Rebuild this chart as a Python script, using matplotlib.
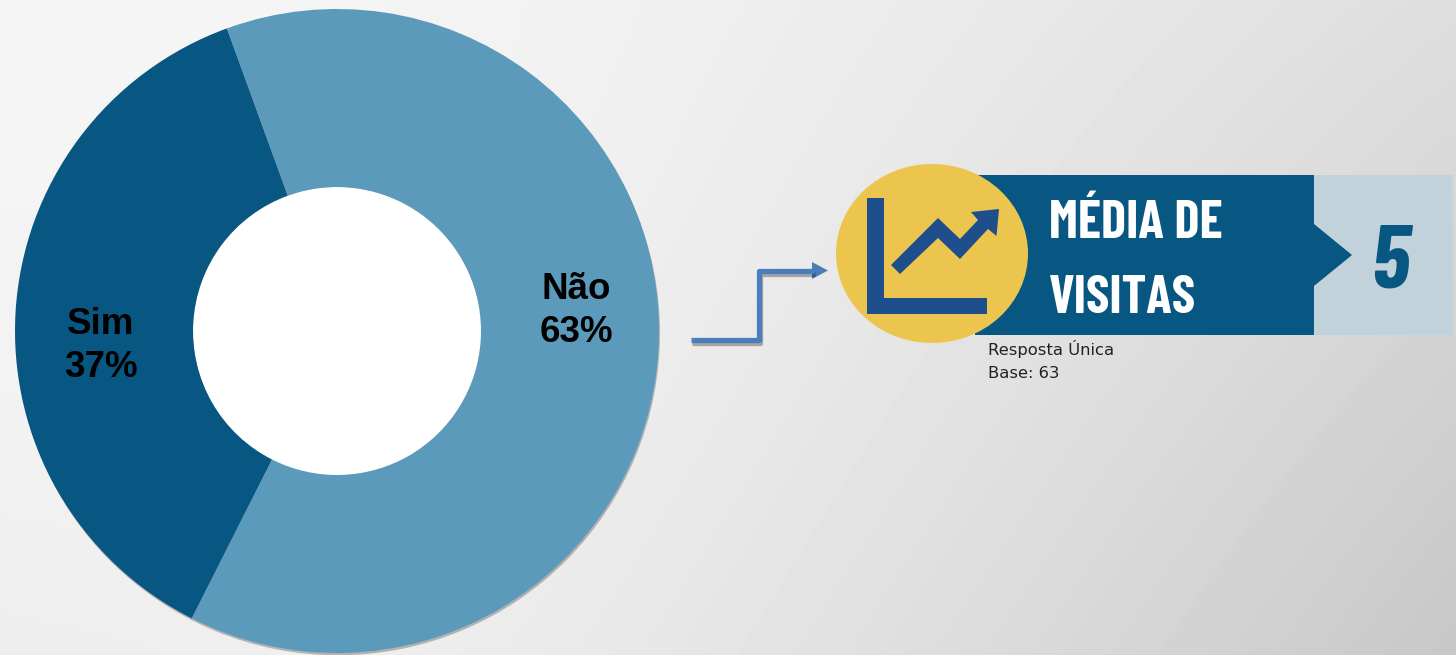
import numpy as np
import matplotlib
matplotlib.use('Agg')
import matplotlib.pyplot as plt
from matplotlib.patches import Ellipse, Polygon, Rectangle, Wedge, Circle
import matplotlib.patheffects as pe

W, H = 1456, 655

labels = ['Sim', 'Não']
values = [37, 63]
colors = ['#085782', '#5b9aba']
title_lines = ['MÉDIA DE', 'VISITAS']
media = '5'
notes = ['Resposta Única', 'Base: 63']

narrow = ['Barlow Condensed', 'Roboto Condensed', 'Saira SemiCondensed', 'Roboto']

fig = plt.figure(figsize=(W / 100, H / 100), dpi=100)

# fundo cinza
bg = fig.add_axes([0, 0, 1, 1], zorder=0)
yy, xx = np.mgrid[0:H, 0:W]
u = np.clip((xx - 300) / 1156.0, 0, 1) ** 1.3
bg.imshow(0.96 - (0.09 + 0.09 * yy / H) * u - 0.03 * (yy / H) ** 2 * (1 - xx / W), cmap='gray', vmin=0, vmax=1, aspect='auto')
bg.axis('off')

# rosca
cx, cy, r_out, r_in = 337, 331, 322, 144
m = 1.03
ax = fig.add_axes([(cx - r_out * m) / W, 1 - (cy + r_out * m) / H, 2 * r_out * m / W, 2 * r_out * m / H], zorder=1)
ax.add_patch(Wedge((0.003, -0.007), 1, 0, 360, width=1 - r_in / r_out, color='#000000', alpha=0.25, lw=0))
ax.add_patch(Circle((0, 0), r_in / r_out, color='white', lw=0))
ax.pie(values, colors=colors, startangle=110, radius=1, wedgeprops=dict(width=1 - r_in / r_out, lw=0))
ax.set_xlim(-m, m)
ax.set_ylim(-m, m)

# resto em pixels
ov = fig.add_axes([0, 0, 1, 1], zorder=2)
ov.set_xlim(0, W)
ov.set_ylim(H, 0)
ov.axis('off')

label_pos = [(101, 346), (576, 311)]
for lab, val, (x, y) in zip(labels, values, label_pos):
    ov.text(x, y, '%s\n%d%%' % (lab, val), ha='center', va='center', fontsize=26.5, fontweight='bold',
            family='Liberation Sans', color='black', linespacing=1.33)

# seta
shadow = [pe.SimpleLineShadow(offset=(1, -2), alpha=0.3, shadow_color='black'), pe.Normal()]
ov.plot([691, 759, 759, 814], [340, 340, 271, 271], color='#4a7ebb', lw=3.8,
        solid_joinstyle='round', solid_capstyle='butt', path_effects=shadow)
ov.add_patch(Polygon([(812, 262), (828, 270.5), (812, 279)], closed=True, fc='#4a7ebb', ec='none'))

# faixa
ov.add_patch(Rectangle((1314, 175), 139, 160, fc='#c1d2da', ec='none'))
ov.add_patch(Polygon([(975, 175), (1314, 175), (1314, 224), (1352, 255), (1314, 286), (1314, 335), (975, 335)],
                     closed=True, fc='#085782', ec='none'))
ov.add_patch(Ellipse((932, 253.5), 192, 179, fc='#ecc54e', ec='none'))

# icone
ov.add_patch(Polygon([(867, 198), (884, 198), (884, 298), (987, 298), (987, 314), (867, 314)],
                     closed=True, fc='#1f4e8c', ec='none'))
ov.add_patch(Polygon([(891, 265), (938, 218), (960, 239), (978, 220), (971, 212), (999, 209), (996.5, 236),
                      (988, 229), (960, 259), (938, 238), (900, 274)], closed=True, fc='#1f4e8c', ec='none'))

ov.text(1049, 238, title_lines[0], fontsize=38, fontweight='bold', family=narrow, color='white', ha='left', va='baseline')
ov.text(1049, 313, title_lines[1], fontsize=38, fontweight='bold', family=narrow, color='white', ha='left', va='baseline')
ov.text(1390, 287, media, fontsize=64, fontweight='bold', style='italic', family=narrow, color='#085782',
        ha='center', va='baseline')

ov.text(988, 355, notes[0], fontsize=11.8, family='DejaVu Sans', color='#222222', ha='left', va='baseline')
ov.text(988, 378, notes[1], fontsize=11.8, family='DejaVu Sans', color='#222222', ha='left', va='baseline')

fig.savefig('out.png', dpi=100)
